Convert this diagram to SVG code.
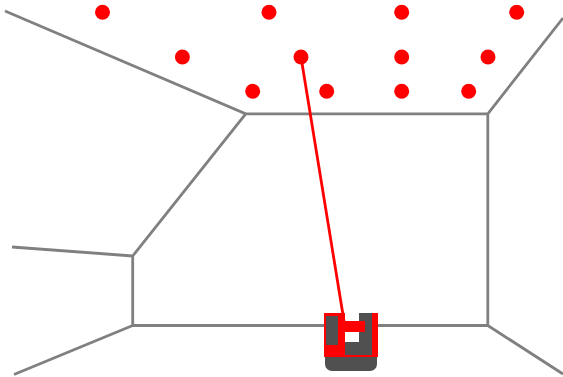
<svg xmlns="http://www.w3.org/2000/svg" width="563" height="377" viewBox="0 0 563 377">
<style>
.wall{fill:none;stroke:#808080;stroke-width:2.8}
.dot{fill:#ff0000}
.red{fill:#ff0000}
.grey{fill:#505050}
</style>
<rect width="563" height="377" fill="#ffffff"/>
<g id="walls">
<path class="wall" d="M5 11L245.700 113.800H487.800V325.500H132.700V256L245.700 113.800M487.800 113.800L563 18M132.700 256L12 247M132.700 325.500L14 374.500M487.800 325.500L563 374"/>
</g>
<g id="landmarks">
<circle class="dot" cx="102.500" cy="12.300" r="7.500"/>
<circle class="dot" cx="269" cy="12.300" r="7.500"/>
<circle class="dot" cx="401.700" cy="12.300" r="7.500"/>
<circle class="dot" cx="516.700" cy="12.300" r="7.500"/>
<circle class="dot" cx="182.400" cy="57" r="7.500"/>
<circle class="dot" cx="301" cy="57" r="7.500"/>
<circle class="dot" cx="401.700" cy="57" r="7.500"/>
<circle class="dot" cx="488" cy="57" r="7.500"/>
<circle class="dot" cx="252.700" cy="91.300" r="7.500"/>
<circle class="dot" cx="326.700" cy="91.300" r="7.500"/>
<circle class="dot" cx="401.700" cy="91.300" r="7.500"/>
<circle class="dot" cx="468.700" cy="91.300" r="7.500"/>
</g>
<g id="robot">
<rect class="grey" x="325" y="340" width="52" height="31" rx="7"/>
<rect x="324" y="313" width="54" height="44" fill="#ffffff"/>
<path class="red" d="M324 313H345V321H365V332H345V357H324ZM345 355H372V313H378V357H345Z"/>
<rect class="grey" x="326" y="316" width="12" height="29"/>
<path class="grey" d="M359 313H372V355H345V342H359V332H365V321H359Z"/>
</g>
<g id="connectors">
<line x1="301" y1="57" x2="344" y2="321" stroke="#ff0000" stroke-width="2.800"/>
</g>
</svg>
